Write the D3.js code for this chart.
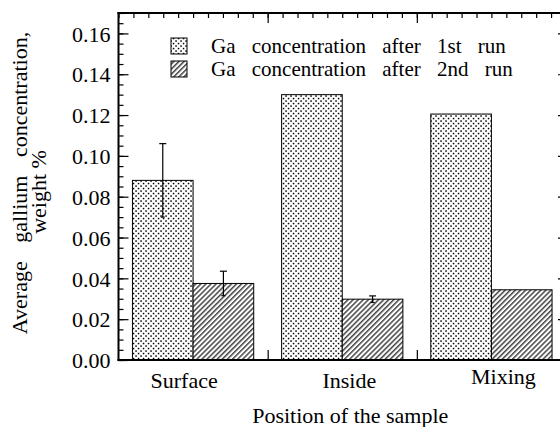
<!DOCTYPE html>
<html><head><meta charset="utf-8">
<script src="https://cdn.jsdelivr.net/npm/d3@7"></script>
</head><body style="margin:0;background:#fff;overflow:hidden">
<svg id="c" width="560" height="427" style="display:block"></svg>
<script>
// ---- data ----
const categories = ["Surface", "Inside", "Mixing"];
const seriesNames = ["Ga concentration after 1st run", "Ga concentration after 2nd run"];
const run1 = [0.088, 0.130, 0.1205];
const run2 = [0.0375, 0.0298, 0.0344];
const run1Err = [0.018, null, null];
const run2Err = [0.006, 0.0016, null];
const yTicks = [0, 0.02, 0.04, 0.06, 0.08, 0.10, 0.12, 0.14, 0.16];
const yMinorTicks = d3.range(0, 0.1701, 0.005);
const xTitle = "Position of the sample";
const yTitle1 = "Average gallium concentration,";
const yTitle2 = "weight %";

// ---- layout ----
const FONT = "Liberation Serif";
const L = 118.5, R = 566, T = 13, B = 360;
const svg = d3.select("#c").attr("font-family", FONT);
const defs = svg.append("defs");

const dots = defs.append("pattern").attr("id", "dots").attr("patternUnits", "userSpaceOnUse")
  .attr("width", 5).attr("height", 5);
dots.append("rect").attr("width", 5).attr("height", 5).attr("fill", "#fff");
dots.append("rect").attr("x", 0.3).attr("y", 0.3).attr("width", 1.5).attr("height", 1.5).attr("fill", "#000");
dots.append("rect").attr("x", 2.8).attr("y", 2.8).attr("width", 1.5).attr("height", 1.5).attr("fill", "#000");

const hatch = defs.append("pattern").attr("id", "hatch").attr("patternUnits", "userSpaceOnUse")
  .attr("width", 3.6).attr("height", 3.6).attr("patternTransform", "rotate(45)");
hatch.append("rect").attr("width", 3.6).attr("height", 3.6).attr("fill", "#fff");
hatch.append("line").attr("x1", 0.8).attr("x2", 0.8).attr("y1", 0).attr("y2", 3.6)
  .attr("stroke", "#000").attr("stroke-width", 1.1);

const fills = ["url(#dots)", "url(#hatch)"];

const x = d3.scaleBand().domain(categories).range([L, R]).paddingInner(0).paddingOuter(0);
const xSub = d3.scaleBand().domain([0, 1]).range([0, x.bandwidth()]).paddingInner(0).paddingOuter(0.23);
const xLin = d3.scaleLinear().domain([0, categories.length]).range([L, R]);
const y = d3.scaleLinear().domain([0, 0.17]).range([B, T]);

const series = [run1, run2];
const errs = [run1Err, run2Err];

// bars
series.forEach((vals, si) => {
  svg.append("g").selectAll("rect").data(vals).join("rect")
    .attr("x", (d, i) => x(categories[i]) + xSub(si))
    .attr("y", d => y(d))
    .attr("width", xSub.bandwidth())
    .attr("height", d => y(0) - y(d))
    .attr("fill", fills[si])
    .attr("stroke", "#000").attr("stroke-width", 1);
});

// error bars
series.forEach((vals, si) => {
  vals.forEach((v, i) => {
    const e = errs[si][i];
    if (e == null) return;
    const cx = x(categories[i]) + xSub(si) + xSub.bandwidth() / 2;
    const g = svg.append("g").attr("stroke", "#000").attr("stroke-width", 1.2);
    g.append("line").attr("x1", cx).attr("x2", cx).attr("y1", y(v + e)).attr("y2", y(v - e));
    g.append("line").attr("x1", cx - 3.5).attr("x2", cx + 3.5).attr("y1", y(v + e)).attr("y2", y(v + e));
    g.append("line").attr("x1", cx - 2).attr("x2", cx + 2).attr("y1", y(v - e)).attr("y2", y(v - e));
  });
});

// left axis
const gl = svg.append("g").attr("transform", `translate(${L},0)`)
  .call(d3.axisLeft(y).tickValues(yMinorTicks).tickSize(-5).tickFormat(""));
gl.select(".domain").remove();
const gL = svg.append("g").attr("transform", `translate(${L},0)`)
  .call(d3.axisLeft(y).tickValues(yTicks).tickSize(-10).tickPadding(8).tickFormat(d3.format(".2f")));
gL.select(".domain").remove();
gL.attr("font-family", FONT).attr("font-size", 22);
gL.selectAll("text").attr("font-family", FONT).attr("font-size", 22).attr("dy", "0.35em");

// right axis
const gR = svg.append("g").attr("transform", `translate(${R},0)`)
  .call(d3.axisRight(y).tickValues(yTicks).tickSize(-8).tickFormat(""));
gR.select(".domain").remove();

// top axis
const topMinor = d3.range(0, categories.length * 10 + 1).map(k => k / 10);
const gT1 = svg.append("g").attr("transform", `translate(0,${T})`)
  .call(d3.axisTop(xLin).tickValues(topMinor).tickSize(-5).tickFormat(""));
gT1.select(".domain").remove();
const gT2 = svg.append("g").attr("transform", `translate(0,${T})`)
  .call(d3.axisTop(xLin).tickValues(d3.range(1, categories.length)).tickSize(-10).tickFormat(""));
gT2.select(".domain").remove();

// bottom axis
const gB = svg.append("g").attr("transform", `translate(0,${B})`)
  .call(d3.axisBottom(xLin).tickValues(d3.range(1, categories.length)).tickSize(-10).tickFormat(""));
gB.select(".domain").remove();
svg.selectAll(".tick line").attr("stroke-width", 1.2);

// category labels
const nudgeX = [-9, 7, 12], nudgeY = [0, 0, -4];
const gC = svg.append("g").attr("transform", `translate(0,${B})`)
  .call(d3.axisBottom(x).tickSize(0).tickPadding(0));
gC.select(".domain").remove();
gC.attr("font-family", FONT).attr("font-size", 22);
gC.selectAll("text").attr("font-family", FONT).attr("font-size", 22)
  .attr("dy", null)
  .attr("x", (d, i) => nudgeX[i]).attr("y", (d, i) => 28 + nudgeY[i]);

// frame
const frame = svg.append("g").attr("stroke", "#000").attr("fill", "none");
frame.append("line").attr("x1", L).attr("x2", L).attr("y1", T - 1).attr("y2", B + 1).attr("stroke-width", 2);
frame.append("line").attr("x1", L - 1).attr("x2", R).attr("y1", B).attr("y2", B).attr("stroke-width", 2.2);
frame.append("line").attr("x1", L - 1).attr("x2", R).attr("y1", T).attr("y2", T).attr("stroke-width", 2);
frame.append("line").attr("x1", R).attr("x2", R).attr("y1", T).attr("y2", B).attr("stroke-width", 2);

// legend
const leg = svg.append("g");
seriesNames.forEach((name, i) => {
  leg.append("rect").attr("x", 171).attr("y", 38 + i * 23).attr("width", 16).attr("height", 16)
    .attr("fill", fills[i]).attr("stroke", "#000").attr("stroke-width", 1);
  leg.append("text").attr("x", 211).attr("y", 53 + i * 23)
    .attr("font-family", FONT).attr("font-size", 21)
    .attr("word-spacing", 11).text(name);
});

// titles
const tg = svg.append("g");
tg.append("text").attr("x", (L + R) / 2 + 8).attr("y", 423).attr("text-anchor", "middle")
  .attr("font-family", FONT).attr("font-size", 22).text(xTitle);
tg.append("text").attr("transform", "translate(27,183) rotate(-90)").attr("text-anchor", "middle")
  .attr("font-family", FONT).attr("font-size", 22).attr("word-spacing", 13).text(yTitle1);
tg.append("text").attr("transform", "translate(46,192) rotate(-90)").attr("text-anchor", "middle")
  .attr("font-family", FONT).attr("font-size", 22).text(yTitle2);
</script>
</body></html>
